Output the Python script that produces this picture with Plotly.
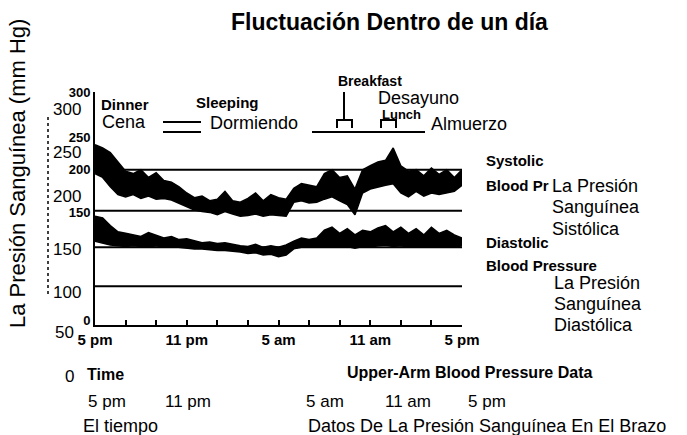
import plotly.graph_objects as go

# ---------------- data ----------------
hours = [i * 0.5 for i in range(49)]  # hours after 5 pm

systolic_high = [232, 228, 222, 210, 198, 195, 200, 190, 196, 186, 184, 178, 170, 164, 166, 160, 162,
                 172, 160, 158, 163, 170, 160, 168, 164, 162, 176, 182, 180, 178, 195, 200, 190, 192,
                 175, 200, 205, 210, 212, 228, 205, 198, 200, 192, 202, 194, 200, 190, 200]
systolic_low = [195, 190, 178, 168, 165, 168, 163, 166, 162, 163, 161, 157, 153, 148, 146, 145, 142,
                146, 143, 140, 141, 143, 140, 142, 141, 140, 158, 160, 157, 158, 162, 165, 160, 155,
                142, 170, 175, 178, 180, 182, 170, 165, 172, 166, 170, 168, 170, 172, 180]
diastolic_high = [140, 138, 128, 120, 118, 116, 114, 119, 115, 112, 114, 110, 111, 108, 106, 107, 105,
                  106, 104, 102, 101, 104, 100, 102, 100, 103, 108, 112, 110, 112, 122, 126, 118, 124,
                  116, 122, 120, 125, 128, 120, 126, 118, 124, 116, 126, 118, 122, 116, 112]
diastolic_low = [108, 105, 103, 102, 101, 102, 101, 100, 102, 100, 101, 100, 99, 98, 98, 97, 96,
                 96, 95, 94, 92, 93, 90, 91, 88, 90, 98, 100, 100, 100, 101, 100, 100, 101,
                 99, 101, 100, 102, 103, 101, 102, 100, 101, 100, 101, 100, 101, 100, 102]

reference_levels = [200, 147, 100, 50]

x_tick_vals = [0, 6, 12, 18, 24]
x_tick_text = ["5 pm", "11 pm", "5 am", "11 am", "5 pm"]
x_tick_text_es = ["5 pm", "11 pm", "5 am", "11 am", "5 pm"]

y_tick_vals = [300, 242, 200, 145, 6]
y_tick_text = ["300", "250", "200", "150", "0"]
y_labels_es = ["300", "250", "200", "150", "100", "50"]

# ---------------- helpers (pixel -> paper) ----------------
X0, X1 = 95, 462
YB, YT = 325, 92


def px(x):
    return (x - X0) / (X1 - X0)


def py(y):
    return (YB - y) / (YB - YT)


BOLD = "Liberation Sans Narrow, Arial Narrow, Liberation Sans, Arial"
REG = "Liberation Sans, Arial, Helvetica"

fig = go.Figure()

for lo, hi, name in [(systolic_low, systolic_high, "Systolic"),
                     (diastolic_low, diastolic_high, "Diastolic")]:
    fig.add_trace(go.Scatter(x=hours, y=lo, mode="lines", line=dict(color="black", width=1.5),
                             showlegend=False, hoverinfo="skip"))
    fig.add_trace(go.Scatter(x=hours, y=hi, mode="lines", line=dict(color="black", width=1.5),
                             fill="tonexty", fillcolor="black", name=name, showlegend=False))

shapes = []
for lvl in reference_levels:
    shapes.append(dict(type="line", xref="x", yref="y", x0=0, x1=24.2, y0=lvl, y1=lvl,
                       line=dict(color="black", width=2)))

# sleeping marks
for yy in [122, 132]:
    shapes.append(dict(type="line", xref="paper", yref="paper", x0=px(163), x1=px(201),
                       y0=py(yy), y1=py(yy), line=dict(color="black", width=2)))
# meals baseline
shapes.append(dict(type="line", xref="paper", yref="paper", x0=px(312), x1=px(425),
                   y0=py(132), y1=py(132), line=dict(color="black", width=2)))
# breakfast stem and brackets
shapes.append(dict(type="line", xref="paper", yref="paper", x0=px(344), x1=px(344),
                   y0=py(92), y1=py(120), line=dict(color="black", width=2)))
for a, b in [(337, 352), (381, 396)]:
    shapes.append(dict(type="path", xref="paper", yref="paper",
                       path=f"M {px(a)} {py(128)} L {px(a)} {py(120)} L {px(b)} {py(120)} L {px(b)} {py(128)}",
                       line=dict(color="black", width=2)))
# dotted bracket on the left
shapes.append(dict(type="line", xref="paper", yref="paper", x0=px(48), x1=px(48),
                   y0=py(117), y1=py(296), line=dict(color="black", width=1.5, dash="dot")))

ann = []


def add(text, x, y, size=15, family=REG, bold=False, xanchor="left", angle=0):
    ann.append(dict(text=text, x=px(x), y=py(y), xref="paper", yref="paper", showarrow=False,
                    xanchor=xanchor, yanchor="middle", textangle=angle,
                    font=dict(family=family, size=size, color="black",
                              weight="bold" if bold else "normal")))


add("Fluctuación Dentro de un día", 389, 22, size=23, bold=True, xanchor="center")
add("La Presión Sanguínea (mm Hg)", 17, 174, size=22, xanchor="center", angle=-90)

# spanish y labels
for t, yy in zip(y_labels_es[:-1], [109, 152, 196, 250, 292]):
    add(t, 83, yy, size=17, xanchor="right")
add(y_labels_es[-1], 76, 332, size=17, xanchor="right")
add("0", 76, 376, size=17, xanchor="right")

# top activity labels
add("Dinner", 99, 104, size=15, family=BOLD, bold=True)
add("Cena", 100, 122, size=18)
add("Sleeping", 194, 103, size=15, family=BOLD, bold=True)
add("Dormiendo", 208, 123, size=18)
add("Breakfast", 336, 81, size=14, family=BOLD, bold=True)
add("Desayuno", 376, 98, size=18)
add("Lunch", 380, 114, size=13, family=BOLD, bold=True)
add("Almuerzo", 429, 124, size=18)

# right side labels
add("Systolic", 484, 160, size=15, family=BOLD, bold=True)
add("Blood Pr", 484, 185, size=15, family=BOLD, bold=True)
add("La Presión", 550, 186, size=18)
add("Sanguínea", 550, 207, size=18)
add("Sistólica", 550, 229, size=18)
add("Diastolic", 484, 242, size=15, family=BOLD, bold=True)
add("Blood Pressure", 484, 265, size=15, family=BOLD, bold=True)
add("La Presión", 552, 283, size=18)
add("Sanguínea", 552, 304, size=18)
add("Diastólica", 552, 325, size=18)

# bottom texts
add("Time", 85, 374, size=16, family=BOLD, bold=True)
add("Upper-Arm Blood Pressure Data", 469, 372, size=16, family=BOLD, bold=True, xanchor="center")
for t, xx in zip(x_tick_text_es, [107, 188, 325, 408, 487]):
    add(t, xx, 401, size=17, xanchor="center")
add("El tiempo", 120, 426, size=18, xanchor="center")
add("Datos De La Presión Sanguínea En El Brazo", 487, 426, size=18, xanchor="center")

fig.update_layout(
    width=687, height=435,
    margin=dict(l=X0, r=687 - X1, t=YT, b=435 - YB),
    paper_bgcolor="white", plot_bgcolor="white",
    shapes=shapes, annotations=ann, showlegend=False,
    xaxis=dict(range=[0, 24], showgrid=False, zeroline=False, showline=True, linecolor="black",
               linewidth=2, tickvals=x_tick_vals, ticktext=x_tick_text, ticks="inside",
               ticklen=5, tickcolor="black", tickwidth=2,
               minor=dict(dtick=2, ticks="inside", ticklen=5, tickcolor="black", tickwidth=2),
               tickfont=dict(family=BOLD, size=15, color="black", weight="bold")),
    yaxis=dict(range=[0, 300], showgrid=False, zeroline=False, showline=True, linecolor="black",
               linewidth=2, tickvals=y_tick_vals, ticktext=y_tick_text, ticks="",
               tickfont=dict(family=BOLD, size=13, color="black", weight="bold")),
)

fig.write_html("out.html", config={"displayModeBar": False},
               post_script="document.body.style.margin='0';document.body.style.padding='0';")
